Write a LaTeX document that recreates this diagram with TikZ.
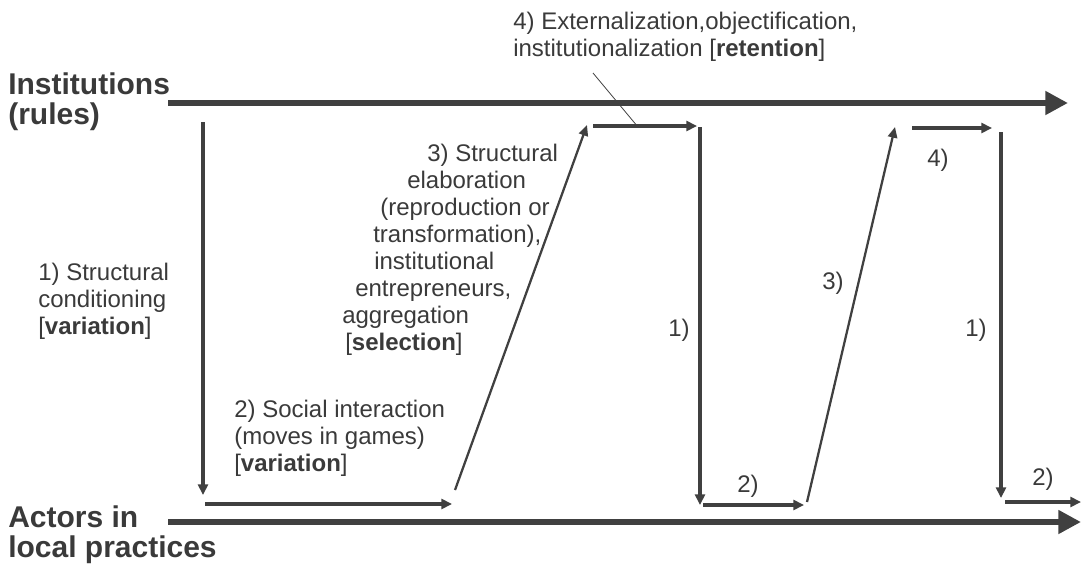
\documentclass[tikz,border=0pt]{standalone}
\usepackage{fontspec}
\setmainfont{Liberation Sans}
\usetikzlibrary{arrows.meta}
\definecolor{ink}{HTML}{404040}
\definecolor{txt}{HTML}{3A3A3A}
\begin{document}
\begin{tikzpicture}[x=0.75pt,y=-0.75pt,
  axis/.style={draw=ink,line width=4.5pt,-{Triangle[length=17pt,width=17pt]}},
  move/.style={draw=ink,line width=2.3pt,-{Triangle[length=8pt,width=7.5pt]}},
  slant/.style={draw=ink,line width=1.7pt,-{Triangle[length=8pt,width=7pt]}},
  pointer/.style={draw=ink,line width=0.6pt},
  lbl/.style={text=txt,font=\fontsize{18}{20.25}\selectfont,inner sep=0pt,anchor=base west,align=left},
  axislbl/.style={text=txt,font=\fontsize{22.5}{22.5}\selectfont\bfseries,inner sep=0pt,anchor=base west,align=left}]
\useasboundingbox (0,0) rectangle (1081,564);

% end points of the two levels and of the cycle steps
\coordinate (i0) at (168,103);  \coordinate (i1) at (1068,103);
\coordinate (a0) at (168,522);  \coordinate (a1) at (1081,522);
\coordinate (v1s) at (203,122); \coordinate (v1e) at (203,495);
\coordinate (h2s) at (205,504); \coordinate (h2e) at (452,504);
\coordinate (d3s) at (455,490); \coordinate (d3e) at (587,125);
\coordinate (h4s) at (593,126); \coordinate (h4e) at (697,126);
\coordinate (w1s) at (700,127); \coordinate (w1e) at (700,505);
\coordinate (k2s) at (703,505); \coordinate (k2e) at (804,505);
\coordinate (e3s) at (807,502); \coordinate (e3e) at (895,127);
\coordinate (k4s) at (912,128); \coordinate (k4e) at (992,128);
\coordinate (u1s) at (1001,132);\coordinate (u1e) at (1001,498);
\coordinate (m2s) at (1005,502);\coordinate (m2e) at (1081,502);
\coordinate (ps) at (593,73);   \coordinate (pe) at (638,127);

% the two levels
\draw[axis] (i0) -- (i1);
\draw[axis] (a0) -- (a1);

% first cycle
\draw[move] (v1s) -- (v1e);
\draw[move] (h2s) -- (h2e);
\draw[slant] (d3s) -- (d3e);
\draw[move] (h4s) -- (h4e);
% second cycle
\draw[move] (w1s) -- (w1e);
\draw[move] (k2s) -- (k2e);
\draw[slant] (e3s) -- (e3e);
\draw[move] (k4s) -- (k4e);
% third cycle
\draw[move] (u1s) -- (u1e);
\draw[move] (m2s) -- (m2e);

\draw[pointer] (ps) -- (pe);

% labels (multi-line nodes are placed by the baseline of their last line)
\node[axislbl] (inst) at (8,124) {Institutions\\(rules)};
\node[axislbl] (act) at (8,557) {Actors in\\local practices};
\node[lbl] (ext) at (513,56) {4) Externalization,objectification,\\institutionalization [\textbf{retention}]};
\node[lbl] (cond) at (38,334) {1) Structural\\conditioning\\{}[\textbf{variation}]};
\node[lbl] (elab) at (342,350) {\hspace*{63.75pt}3) Structural\\
  \hspace*{48.75pt}elaboration\\
  \hspace*{28.5pt}(reproduction or\\
  \hspace*{23.25pt}transformation),\\
  \hspace*{24pt}institutional\\
  \hspace*{9.75pt}entrepreneurs,\\
  aggregation\\
  \hspace*{2.25pt}[\textbf{selection}]};
\node[lbl] (soc) at (234,471) {2) Social interaction\\(moves in games)\\{}[\textbf{variation}]};
\node[lbl] (n1b) at (668,336) {1)};
\node[lbl] (n1c) at (965,336) {1)};
\node[lbl] (n3b) at (822,289) {3)};
\node[lbl] (n2b) at (737,492) {2)};
\node[lbl] (n2c) at (1032,485) {2)};
\node[lbl] (n4b) at (927,166) {4)};
\end{tikzpicture}
\end{document}
